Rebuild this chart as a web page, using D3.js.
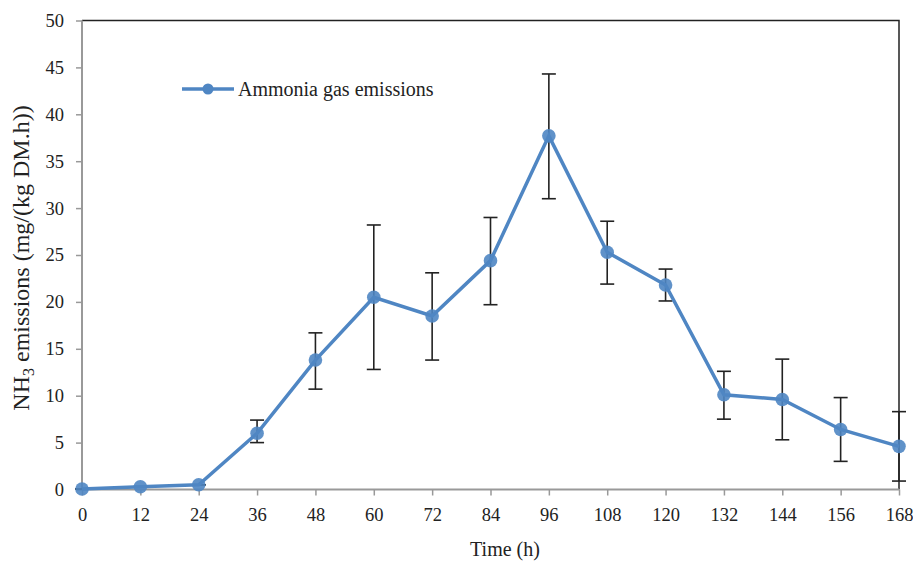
<!DOCTYPE html>
<html><head><meta charset="utf-8">
<script src="https://cdn.jsdelivr.net/npm/d3@7"></script>
<style>body{margin:0;background:#fff}svg{display:block}text{font-family:"Liberation Serif","Times New Roman",serif;fill:#222}</style>
</head><body><svg id="c" width="913" height="561"></svg>
<script>
const times = [0,12,24,36,48,60,72,84,96,108,120,132,144,156,168];
const emissions = [0.05,0.3,0.5,6.0,13.8,20.5,18.5,24.4,37.7,25.3,21.8,10.1,9.6,6.4,4.6];
const errUpper = [0.05,0.3,0.5,7.4,16.7,28.2,23.1,29.0,44.3,28.6,23.5,12.6,13.9,9.8,8.3];
const errLower = [0.05,0.3,0.5,5.0,10.7,12.8,13.8,19.7,31.0,21.9,20.1,7.5,5.3,3.0,0.9];
const yTicks = [0,5,10,15,20,25,30,35,40,45,50];
const seriesName = "Ammonia gas emissions";

const svg = d3.select("#c");
const L=82,R=899,T=20.5,B=489.5;
const x = d3.scaleLinear().domain([0,168]).range([L,R]);
const y = d3.scaleLinear().domain([0,50]).range([B,T]);
const color="#4f86c3";

// top & right border
svg.append("path").attr("d",`M${L},${T}H${R}V${B}`).attr("fill","none").attr("stroke","#222").attr("stroke-width",1.5);

const ya = svg.append("g").attr("transform",`translate(${L},0)`).call(d3.axisLeft(y).tickValues(yTicks).tickSize(6).tickPadding(12));
const xa = svg.append("g").attr("transform",`translate(0,${B})`).call(d3.axisBottom(x).tickValues(times).tickSize(6).tickPadding(12));
[ya,xa].forEach(a=>{a.select(".domain").attr("stroke","#999").attr("stroke-width",2);a.selectAll(".tick line").attr("stroke","#999").attr("stroke-width",1.5);a.selectAll("text").attr("font-size",18.5).attr("font-family","Liberation Serif").attr("fill","#222");});
ya.select(".domain").attr("d",`M0,${B}V${T}`);
xa.select(".domain").attr("d",`M${L},0H${R}`);
xa.selectAll("text").attr("dy","0.71em");

// error bars
const eb = svg.append("g").attr("stroke","#222").attr("stroke-width",1.6);
times.forEach((t,i)=>{
  const cx=x(t), y1=y(errUpper[i]), y2=y(errLower[i]);
  eb.append("line").attr("x1",cx).attr("x2",cx).attr("y1",y1).attr("y2",y2);
  eb.append("line").attr("x1",cx-7).attr("x2",cx+7).attr("y1",y1).attr("y2",y1);
  eb.append("line").attr("x1",cx-7).attr("x2",cx+7).attr("y1",y2).attr("y2",y2);
});

const line = d3.line().x((d,i)=>x(times[i])).y(d=>y(d));
svg.append("path").datum(emissions).attr("d",line).attr("fill","none").attr("stroke",color).attr("stroke-width",3.5);
svg.append("g").selectAll("circle").data(emissions).join("circle")
  .attr("cx",(d,i)=>x(times[i])).attr("cy",d=>y(d)).attr("r",6.8).attr("fill",color).attr("fill-opacity",0.9);

// legend
const lg = svg.append("g");
lg.append("line").attr("x1",182).attr("x2",234).attr("y1",89).attr("y2",89).attr("stroke",color).attr("stroke-width",3.5);
lg.append("circle").attr("cx",208).attr("cy",89).attr("r",5.5).attr("fill",color);
lg.append("text").attr("x",238).attr("y",96).attr("font-size",20).text(seriesName);

// axis titles
svg.append("text").attr("x",505).attr("y",556).attr("text-anchor","middle").attr("font-size",20).text("Time (h)");
const yt = svg.append("text").attr("transform","translate(29,258) rotate(-90)").attr("text-anchor","middle").attr("font-size",24);
yt.append("tspan").text("NH");
yt.append("tspan").attr("font-size",16).attr("dy",5).text("3");
yt.append("tspan").attr("dy",-5).text(" emissions (mg/(kg DM.h))");
</script></body></html>
